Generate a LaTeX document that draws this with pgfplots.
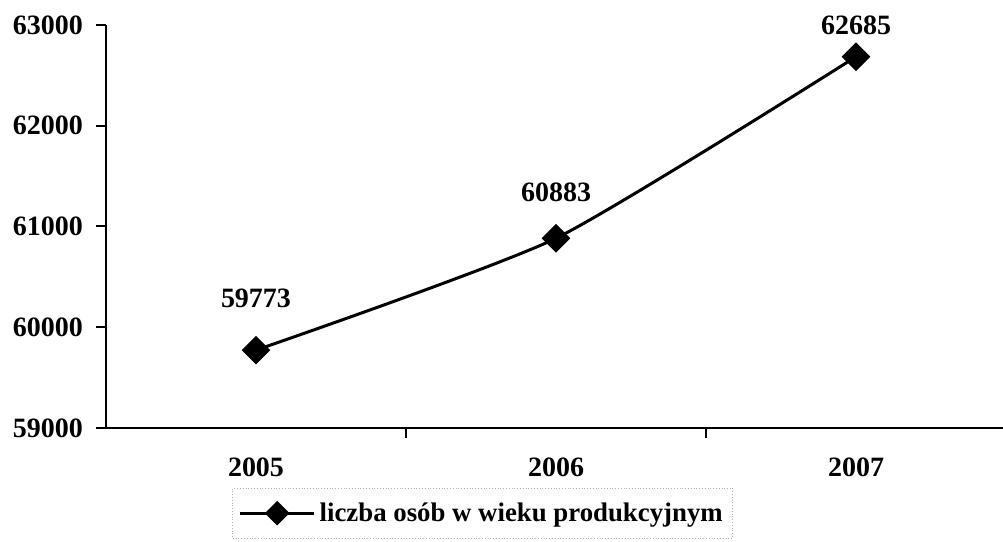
\documentclass[border=0pt]{standalone}
\usepackage{fontspec}
\setmainfont{Liberation Serif}
\usepackage{pgfplots}
\usepackage{pgfplotstable}
\pgfplotsset{compat=1.18}
\pgfplotstableread{
x y s
0 59773 26
1 60883 23
2 62685 15.5
}\datatab
\begin{document}
\begin{tikzpicture}
\begin{axis}[
  name=ax,
  scale only axis,
  width=448.5pt, height=201.5pt,
  xmin=-0.5, xmax=2.49,
  ymin=59000, ymax=63000,
  axis x line*=bottom, axis y line*=left,
  axis line style={line width=1pt, -},
  xtick={0.5,1.5},
  xticklabels={},
  extra x ticks={0,1,2},
  extra x tick labels={2005,2006,2007},
  extra x tick style={major tick length=0pt},
  ytick={59000,60000,61000,62000,63000},
  scaled y ticks=false,
  y tick label style={/pgf/number format/fixed, /pgf/number format/precision=0, /pgf/number format/1000 sep={}, /pgf/number format/assume math mode=true, font=\fontsize{14}{16}\selectfont\bfseries, xshift=-3pt},
  x tick label style={/pgf/number format/assume math mode=true, font=\fontsize{14}{16}\selectfont\bfseries, yshift=-11.5pt},
  tick style={line width=1pt, black},
  tick align=outside,
  major tick length=5pt,
  legend style={at={(0.42,0)}, anchor=north, yshift=-30pt, draw=gray!60, densely dotted,
    font=\fontsize{13.4}{15}\selectfont\bfseries, inner xsep=3pt, inner ysep=5pt,
    legend cell align=left},
  legend image code/.code={
    \draw[solid, mark repeat=2, mark phase=2, mark size=3.6pt] plot coordinates {(0cm,0cm) (0.65cm,0cm) (1.3cm,0cm)};
  },
  clip=false,
]
\addplot[black, line width=1.5pt, smooth, tension=0.35,
  mark=square*, mark size=4.3pt, mark options={solid, fill=black, rotate=45},
  nodes near coords,
  /pgf/number format/fixed, /pgf/number format/precision=0, /pgf/number format/1000 sep={}, /pgf/number format/assume math mode=true,
  visualization depends on={\thisrow{s} \as \ys},
  every node near coord/.append style={anchor=center, yshift=\ys pt, font=\fontsize{14}{16}\selectfont\bfseries, black},
] table[x=x, y=y] {\datatab};
\addlegendentry{liczba osób w wieku produkcyjnym}
\end{axis}
\pgfresetboundingbox
\path ([xshift=-53pt,yshift=-57pt]ax.south west) rectangle ([yshift=12.5pt]ax.north east);
\end{tikzpicture}
\end{document}
